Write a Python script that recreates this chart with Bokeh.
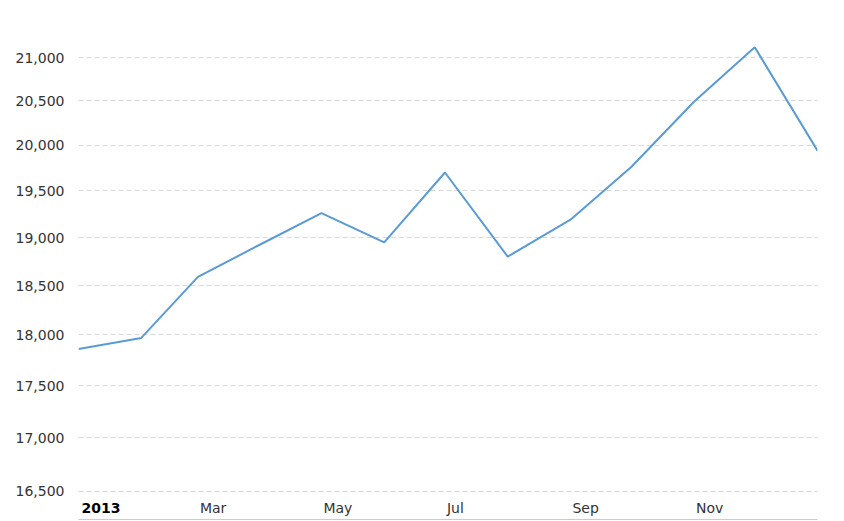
import pandas as pd
from bokeh.plotting import figure
from bokeh.models import (ColumnDataSource, Range1d, FixedTicker, NumeralTickFormatter,
                          LabelSet, Label)
from bokeh.core.properties import value
from bokeh.embed import file_html
from bokeh.resources import INLINE

# ---- data ----
month_dates = ["2013-01-01", "2013-02-01", "2013-03-01", "2013-04-01", "2013-05-01",
               "2013-06-01", "2013-07-01", "2013-08-01", "2013-09-01", "2013-10-01",
               "2013-11-01", "2013-12-01", "2014-01-01"]
values = [17860, 17970, 18590, 18930, 19260, 18950, 19700, 18800, 19190, 19760,
          20490, 21120, 19940]

tick_dates = ["2013-03-01", "2013-05-01", "2013-07-01", "2013-09-01", "2013-11-01"]
tick_labels = ["Mar", "May", "Jul", "Sep", "Nov"]
year_date = "2013-01-01"
year_label = "2013"
y_ticks = [16500, 17000, 17500, 18000, 18500, 19000, 19500, 20000, 20500, 21000]

FONT = "DejaVu Sans"

x = pd.to_datetime(month_dates)
src = ColumnDataSource(dict(x=x, y=values))

p = figure(width=844, height=521, x_axis_type="datetime", y_axis_type="log",
           output_backend="svg", toolbar_location=None,
           min_border_left=78, min_border_right=27, min_border_top=10, min_border_bottom=2)
p.x_range = Range1d(x.min(), x.max())
p.y_range = Range1d(16245, 21556)
p.outline_line_color = None
p.background_fill_color = "white"
p.border_fill_color = "white"

p.line("x", "y", source=src, line_color="#5b9bd5", line_width=2)

# y axis
yax = p.yaxis[0]
yax.ticker = FixedTicker(ticks=y_ticks)
yax.formatter = NumeralTickFormatter(format="0,0")
yax.axis_line_color = None
yax.major_tick_line_color = None
yax.minor_tick_line_color = None
yax.major_label_standoff = 8
yax.major_label_text_font = FONT
yax.major_label_text_font_size = "14px"
yax.major_label_text_color = "#333333"

p.ygrid.ticker = FixedTicker(ticks=y_ticks)
p.ygrid.grid_line_color = "#d9d9d9"
p.ygrid.grid_line_dash = "5 3"
p.ygrid.minor_grid_line_color = None
p.xgrid.visible = False

# x axis: bare line at bottom
xax = p.xaxis[0]
xax.ticker = FixedTicker(ticks=[])
xax.axis_line_color = "#cccccc"
xax.major_tick_line_color = None
xax.minor_tick_line_color = None
xax.major_label_text_font_size = "0px"

# month labels inside the frame, left-aligned at the tick date
lab_src = ColumnDataSource(dict(x=pd.to_datetime(tick_dates), text=tick_labels))
p.add_layout(LabelSet(x="x", y=12, y_units="screen", text="text", source=lab_src,
                      x_offset=2, text_align="left", text_baseline="middle",
                      text_font=value(FONT), text_font_size=value("14px"),
                      text_color=value("#333333")))
p.add_layout(Label(x=pd.Timestamp(year_date).timestamp() * 1000, y=12, y_units="screen",
                   text=year_label, x_offset=3, text_align="left", text_baseline="middle",
                   text_font=FONT, text_font_size="14px", text_font_style="bold",
                   text_color="#000000"))

open("out.html", "w").write(file_html(p, INLINE))
